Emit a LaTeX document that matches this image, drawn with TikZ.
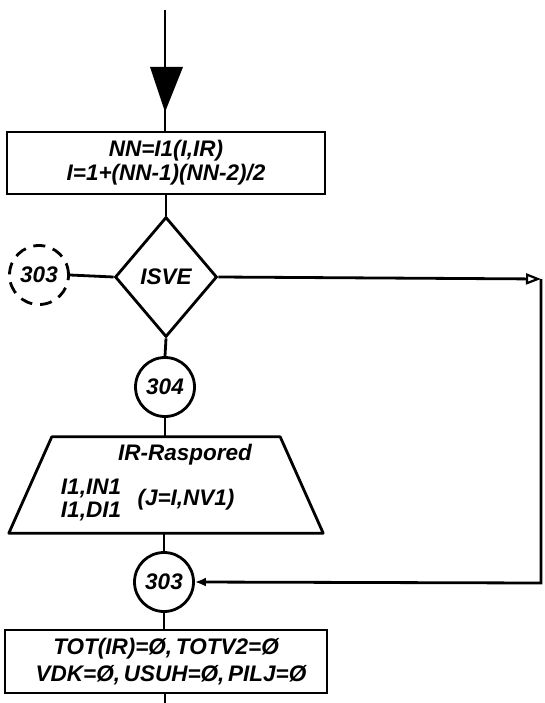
\documentclass[tikz,border=0pt]{standalone}
\usepackage{fontspec}
\setmainfont{Liberation Sans}
\usetikzlibrary{arrows.meta,shapes.geometric}
\begin{document}
\begin{tikzpicture}[x=1pt,y=-1pt,
  every node/.style={font=\fontsize{22.5}{25}\selectfont\bfseries\itshape},
  flow/.style={line width=2.8pt},
  box/.style={draw,line width=2.8pt,inner sep=0pt,align=center},
  conn/.style={draw,circle,line width=2.8pt,minimum size=59pt,inner sep=0pt},
  dconn/.style={conn,dash pattern=on 12pt off 8pt},
  txt/.style={inner sep=0pt}]
\useasboundingbox (0,0) rectangle (544,703);
% nodes
\node[box,minimum width=318pt,minimum height=62pt] (b1) at (166,163)
  {NN=I1(I,IR)\\[-1pt]I=1+(NN-1)(NN-2)/2};
\node[draw,diamond,line width=2.8pt,minimum width=102pt,minimum height=120pt,inner sep=0pt] (d) at (166,277) {ISVE};
\node[dconn] (c303a) at (39,275) {303};
\node[conn] (c304) at (165,387) {304};
\node[minimum width=314pt,minimum height=96pt,inner sep=0pt] (tr) at (166,485) {};
\draw[line width=2.8pt,line join=round] ([xshift=43pt]tr.north west) -- ([xshift=-43pt]tr.north east)
  -- (tr.south east) -- (tr.south west) -- cycle;
\node[txt] (t1) at (185,455) {IR-Raspored};
\node[txt] (t2) at (91,488) {I1,IN1};
\node[txt] (t3) at (91,511) {I1,DI1};
\node[txt] (t4) at (186,500) {(J=I,NV1)};
\node[conn] (c303b) at (164,582) {303};
\node[box,minimum width=322pt,minimum height=63pt] (b2) at (166,661.5)
  {TOT(IR)=Ø,\,TOTV2=Ø\\[2pt]\hspace*{10pt}VDK=Ø,\,USUH=Ø,\,PILJ=Ø};
\coordinate (top) at (165,10);
\coordinate (bot) at (165,703);
\coordinate (r1) at (541,279);
\coordinate (r2) at (541,583);
% connectors
\draw[flow] (top) -- (top |- b1.north);
\fill (150,67) -- (183,67) -- (165,112) -- cycle;
\draw[flow] (b1.south -| d.north) -- (d.north);
\draw[flow] (c303a.east) -- (d.west);
\draw[flow,-{Triangle[open,length=15pt,width=11pt,line width=2.2pt]}] (d.east) -- (r1);
\draw[flow,-{Latex[length=11pt,width=9pt]}] (r1) -- (r2) -- (c303b.east);
\draw[flow] (d.south) -- (c304.north);
\draw[flow] (c304.south) -- (c304.south |- tr.north);
\draw[flow] (c303b.north |- tr.south) -- (c303b.north);
\draw[flow] (c303b.south) -- (c303b.south |- b2.north);
\draw[flow] (b2.south -| bot) -- (bot);
\end{tikzpicture}
\end{document}
